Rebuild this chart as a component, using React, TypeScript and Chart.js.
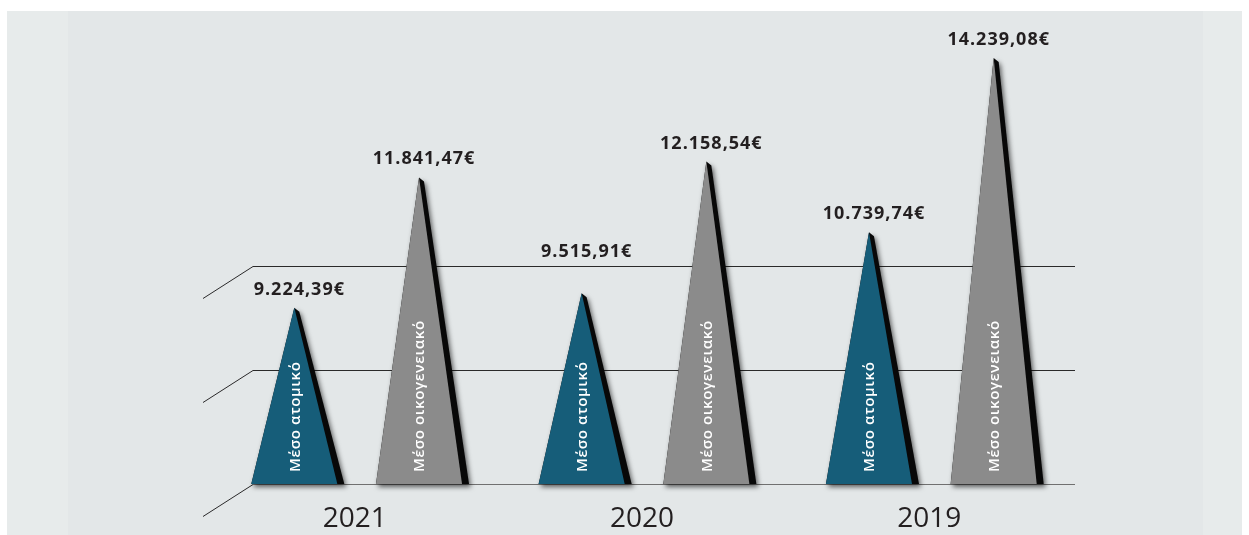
import React, { useEffect, useRef } from "react";
import { Chart, registerables } from "chart.js";

Chart.register(...registerables);

const categories = ["2021", "2020", "2019"];
const seriesNames = ["Μέσο ατομικό", "Μέσο οικογενειακό"];
const individualValues = [9224.39, 9515.91, 10739.74];
const familyValues = [11841.47, 12158.54, 14239.08];
const gridValues = [5690, 7980, 10060];
const yMin = 5690;
const yMax = 15000;

const seriesColors = ["#165d79", "#8b8b8b"];

function formatEuro(v: number): string {
  const [intPart, dec] = v.toFixed(2).split(".");
  const withDots = intPart.replace(/\B(?=(\d{3})+(?!\d))/g, ".");
  return `${withDots},${dec}€`;
}

const trianglePlugin = {
  id: "triangles",
  beforeDatasetsDraw(chart: any) {
    const ctx = chart.ctx as CanvasRenderingContext2D;
    const yScale = chart.scales.y;
    const ca = chart.chartArea;
    ctx.save();
    gridValues.forEach((v, i) => {
      const py = Math.round(yScale.getPixelForValue(v)) + 0.5;
      ctx.lineWidth = 1;
      ctx.strokeStyle = i === 0 ? "#707070" : "#2a2a2a";
      ctx.beginPath();
      ctx.moveTo(ca.left + 40, py);
      ctx.lineTo(ca.right, py);
      ctx.stroke();
      ctx.strokeStyle = "#2a2a2a";
      ctx.beginPath();
      ctx.moveTo(ca.left + 40, py);
      ctx.lineTo(ca.left - 10, py + 32);
      ctx.stroke();
    });
    ctx.restore();
  },
  afterDatasetsDraw(chart: any) {
    const ctx = chart.ctx as CanvasRenderingContext2D;
    const yScale = chart.scales.y;
    const xScale = chart.scales.x;
    const basePx = yScale.getPixelForValue(yMin);
    const gridPx = gridValues.slice(1).map((v) => yScale.getPixelForValue(v));

    chart.data.datasets.forEach((ds: any, di: number) => {
      const meta = chart.getDatasetMeta(di);
      meta.data.forEach((el: any, i: number) => {
        const { x, y: top, width } = el.getProps(["x", "y", "width"], true);
        const half = width / 2;
        const base = basePx;

        // drop shadow + dark right edge
        ctx.save();
        ctx.shadowColor = "rgba(0,0,0,0.6)";
        ctx.shadowBlur = 5;
        ctx.shadowOffsetX = 2;
        ctx.shadowOffsetY = 3;
        ctx.fillStyle = "#080808";
        ctx.beginPath();
        ctx.moveTo(x - half, base);
        ctx.lineTo(x, top);
        ctx.lineTo(x + 5, top + 4);
        ctx.lineTo(x + half + 7, base);
        ctx.closePath();
        ctx.fill();
        ctx.restore();

        // main face
        ctx.save();
        ctx.fillStyle = seriesColors[di];
        ctx.beginPath();
        ctx.moveTo(x - half, base);
        ctx.lineTo(x, top);
        ctx.lineTo(x + half, base);
        ctx.closePath();
        ctx.fill();
        ctx.restore();

        // inner rotated series name
        ctx.save();
        ctx.translate(x, base - 12);
        ctx.rotate(-Math.PI / 2);
        ctx.fillStyle = "#ffffff";
        ctx.font = '600 15px "Open Sans"';
        (ctx as any).letterSpacing = "0.6px";
        ctx.textAlign = "left";
        ctx.textBaseline = "middle";
        ctx.fillText(ds.label, 0, 1);
        ctx.restore();

        // value label
        const value = ds.data[i];
        let baseline = top - 13;
        gridPx.forEach((gy: number) => {
          if (baseline - 14 < gy + 3 && baseline + 3 > gy - 3) {
            baseline = gy - 9;
          }
        });
        ctx.save();
        ctx.fillStyle = "#231f20";
        ctx.font = 'bold 18px "Open Sans"';
        (ctx as any).letterSpacing = "1px";
        ctx.textAlign = "center";
        ctx.textBaseline = "alphabetic";
        ctx.fillText(formatEuro(value), x + 5, baseline);
        ctx.restore();
      });
    });

    // category (year) labels
    ctx.save();
    ctx.fillStyle = "#231f20";
    ctx.font = '28px "Open Sans"';
    ctx.textAlign = "center";
    ctx.textBaseline = "alphabetic";
    categories.forEach((c, i) => {
      ctx.fillText(c, xScale.getPixelForValue(i) - 2, basePx + 43);
    });
    ctx.restore();
  },
};

export default function App() {
  const canvasRef = useRef<HTMLCanvasElement | null>(null);

  useEffect(() => {
    if (!canvasRef.current) return;
    const chart = new Chart(canvasRef.current, {
      type: "bar",
      data: {
        labels: categories,
        datasets: [
          {
            label: seriesNames[0],
            data: individualValues,
            backgroundColor: "rgba(0,0,0,0)",
            borderWidth: 0,
          },
          {
            label: seriesNames[1],
            data: familyValues,
            backgroundColor: "rgba(0,0,0,0)",
            borderWidth: 0,
          },
        ],
      },
      options: {
        animation: false,
        responsive: false,
        maintainAspectRatio: false,
        devicePixelRatio: 1,
        layout: { padding: { left: 206, right: 167, top: 9, bottom: 51 } },
        datasets: {
          bar: { categoryPercentage: 0.868, barPercentage: 0.69 },
        },
        plugins: {
          legend: { display: false },
          tooltip: { enabled: false },
          title: { display: false },
        },
        scales: {
          x: { display: false },
          y: { display: false, min: yMin, max: yMax },
        },
      },
      plugins: [trianglePlugin],
    });
    return () => chart.destroy();
  }, []);

  return (
    <div
      style={{
        position: "absolute",
        left: 7,
        top: 11,
        width: 1235,
        height: 524,
        background: "#e3e7e8",
      }}
    >
      <div
        style={{
          position: "absolute",
          left: 0,
          top: 0,
          width: 61,
          height: 524,
          background: "#e7ebeb",
        }}
      />
      <div
        style={{
          position: "absolute",
          left: 1196,
          top: 0,
          width: 39,
          height: 524,
          background: "#e7ebeb",
        }}
      />
      <canvas
        ref={canvasRef}
        width={1235}
        height={524}
        style={{ position: "absolute", left: 0, top: 0, width: 1235, height: 524 }}
      />
    </div>
  );
}
